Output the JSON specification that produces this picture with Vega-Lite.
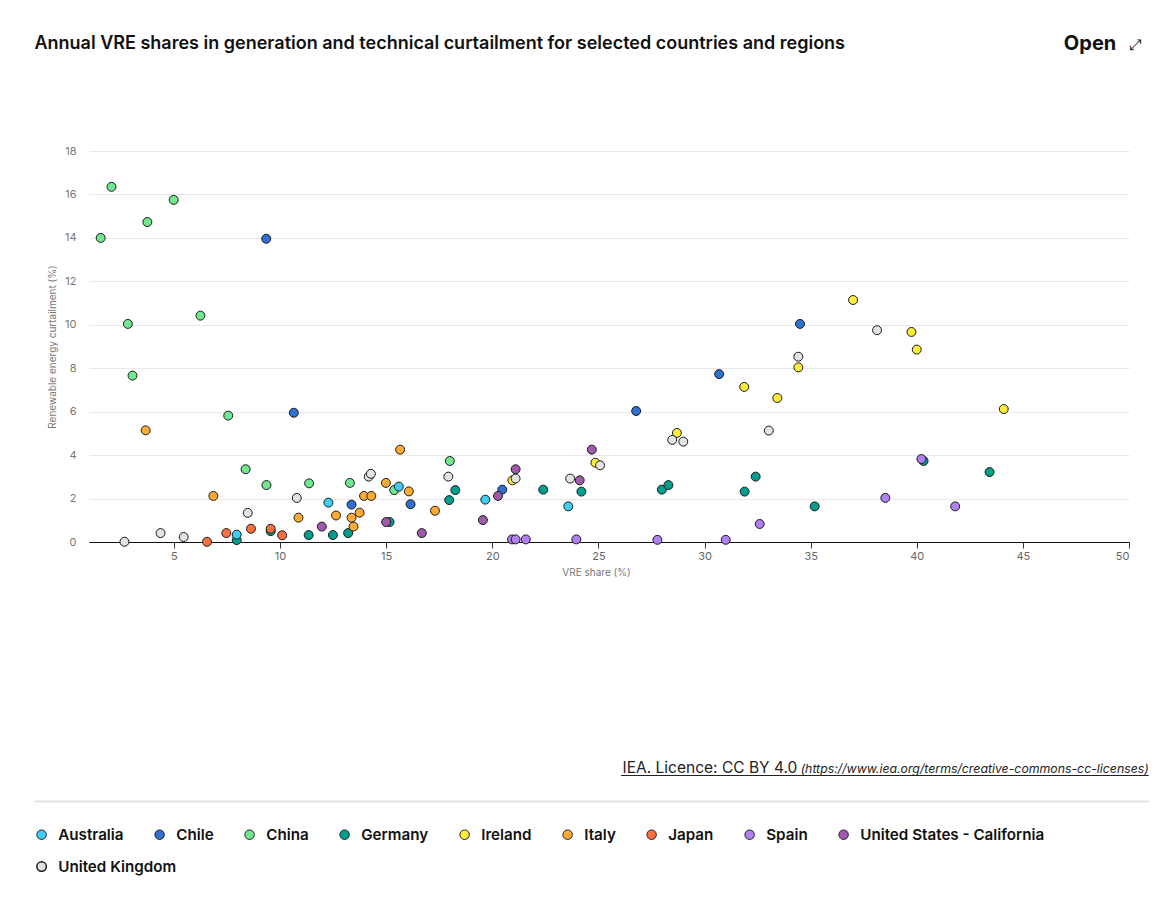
{
  "$schema": "https://vega.github.io/schema/vega-lite/v6.json",
  "autosize": {"type": "none"},
  "padding": {"left": 89, "top": 151, "right": 33, "bottom": 377},
  "width": 1040,
  "height": 391,
  "background": "white",
  "config": {
    "font": "Inter",
    "view": {"stroke": null}
  },
  "datasets": {
    "pts": [
      {"country": "China", "vre": 1.55, "curt": 14.0},
      {"country": "China", "vre": 2.06, "curt": 16.35},
      {"country": "China", "vre": 3.75, "curt": 14.73},
      {"country": "China", "vre": 4.99, "curt": 15.75},
      {"country": "China", "vre": 2.83, "curt": 10.04},
      {"country": "China", "vre": 6.25, "curt": 10.42},
      {"country": "China", "vre": 3.05, "curt": 7.66},
      {"country": "China", "vre": 7.56, "curt": 5.82},
      {"country": "China", "vre": 8.38, "curt": 3.35},
      {"country": "China", "vre": 9.36, "curt": 2.62},
      {"country": "China", "vre": 11.37, "curt": 2.7},
      {"country": "China", "vre": 13.29, "curt": 2.72},
      {"country": "China", "vre": 15.38, "curt": 2.39},
      {"country": "China", "vre": 18.0, "curt": 3.73},
      {"country": "Chile", "vre": 9.35, "curt": 13.96},
      {"country": "Chile", "vre": 10.65, "curt": 5.95},
      {"country": "Chile", "vre": 13.37, "curt": 1.72},
      {"country": "Chile", "vre": 16.15, "curt": 1.74},
      {"country": "Chile", "vre": 20.47, "curt": 2.41},
      {"country": "Chile", "vre": 26.78, "curt": 6.03},
      {"country": "Chile", "vre": 30.69, "curt": 7.73},
      {"country": "Chile", "vre": 34.5, "curt": 10.04},
      {"country": "Germany", "vre": 7.96, "curt": 0.09},
      {"country": "Germany", "vre": 9.56, "curt": 0.5},
      {"country": "Germany", "vre": 11.35, "curt": 0.32},
      {"country": "Germany", "vre": 12.49, "curt": 0.32},
      {"country": "Germany", "vre": 13.21, "curt": 0.41},
      {"country": "Germany", "vre": 15.16, "curt": 0.92},
      {"country": "Germany", "vre": 17.97, "curt": 1.93},
      {"country": "Germany", "vre": 18.26, "curt": 2.39},
      {"country": "Germany", "vre": 22.4, "curt": 2.41},
      {"country": "Germany", "vre": 24.2, "curt": 2.32},
      {"country": "Germany", "vre": 27.99, "curt": 2.41},
      {"country": "Germany", "vre": 28.3, "curt": 2.62},
      {"country": "Germany", "vre": 31.89, "curt": 2.32},
      {"country": "Germany", "vre": 32.41, "curt": 3.01},
      {"country": "Germany", "vre": 35.19, "curt": 1.64},
      {"country": "Germany", "vre": 40.32, "curt": 3.73},
      {"country": "Germany", "vre": 43.43, "curt": 3.22},
      {"country": "Ireland", "vre": 20.95, "curt": 2.84},
      {"country": "Ireland", "vre": 24.86, "curt": 3.65},
      {"country": "Ireland", "vre": 28.7, "curt": 5.02},
      {"country": "Ireland", "vre": 31.87, "curt": 7.14},
      {"country": "Ireland", "vre": 33.43, "curt": 6.63},
      {"country": "Ireland", "vre": 34.42, "curt": 8.04},
      {"country": "Ireland", "vre": 37.0, "curt": 11.14},
      {"country": "Ireland", "vre": 39.75, "curt": 9.67},
      {"country": "Ireland", "vre": 40.0, "curt": 8.86},
      {"country": "Ireland", "vre": 44.1, "curt": 6.12},
      {"country": "Italy", "vre": 3.67, "curt": 5.14},
      {"country": "Italy", "vre": 6.86, "curt": 2.12},
      {"country": "Italy", "vre": 10.87, "curt": 1.12},
      {"country": "Italy", "vre": 12.64, "curt": 1.22},
      {"country": "Italy", "vre": 13.37, "curt": 1.12},
      {"country": "Italy", "vre": 13.46, "curt": 0.71},
      {"country": "Italy", "vre": 13.75, "curt": 1.35},
      {"country": "Italy", "vre": 13.96, "curt": 2.12},
      {"country": "Italy", "vre": 14.3, "curt": 2.12},
      {"country": "Italy", "vre": 14.99, "curt": 2.72},
      {"country": "Italy", "vre": 15.66, "curt": 4.25},
      {"country": "Italy", "vre": 16.07, "curt": 2.33},
      {"country": "Italy", "vre": 17.3, "curt": 1.44},
      {"country": "Japan", "vre": 6.56, "curt": 0.01},
      {"country": "Japan", "vre": 7.47, "curt": 0.41},
      {"country": "Japan", "vre": 8.63, "curt": 0.61},
      {"country": "Japan", "vre": 9.56, "curt": 0.61},
      {"country": "Japan", "vre": 10.1, "curt": 0.31},
      {"country": "Australia", "vre": 7.96, "curt": 0.34},
      {"country": "Australia", "vre": 12.28, "curt": 1.81},
      {"country": "Australia", "vre": 15.6, "curt": 2.55},
      {"country": "Australia", "vre": 19.67, "curt": 1.95},
      {"country": "Australia", "vre": 23.58, "curt": 1.64},
      {"country": "Spain", "vre": 20.93, "curt": 0.12},
      {"country": "Spain", "vre": 21.1, "curt": 0.12},
      {"country": "Spain", "vre": 21.58, "curt": 0.12},
      {"country": "Spain", "vre": 23.96, "curt": 0.12},
      {"country": "Spain", "vre": 27.78, "curt": 0.1},
      {"country": "Spain", "vre": 31.0, "curt": 0.1},
      {"country": "Spain", "vre": 32.6, "curt": 0.83},
      {"country": "Spain", "vre": 38.52, "curt": 2.03},
      {"country": "Spain", "vre": 40.22, "curt": 3.82},
      {"country": "Spain", "vre": 41.81, "curt": 1.64},
      {"country": "United States - California", "vre": 11.97, "curt": 0.71},
      {"country": "United States - California", "vre": 15.0, "curt": 0.92},
      {"country": "United States - California", "vre": 16.68, "curt": 0.41},
      {"country": "United States - California", "vre": 19.56, "curt": 1.01},
      {"country": "United States - California", "vre": 20.27, "curt": 2.12},
      {"country": "United States - California", "vre": 21.1, "curt": 3.35},
      {"country": "United States - California", "vre": 24.12, "curt": 2.84},
      {"country": "United States - California", "vre": 24.69, "curt": 4.25},
      {"country": "United Kingdom", "vre": 2.67, "curt": 0.01},
      {"country": "United Kingdom", "vre": 4.37, "curt": 0.41},
      {"country": "United Kingdom", "vre": 5.46, "curt": 0.23},
      {"country": "United Kingdom", "vre": 8.48, "curt": 1.34},
      {"country": "United Kingdom", "vre": 10.79, "curt": 2.03},
      {"country": "United Kingdom", "vre": 14.18, "curt": 3.01},
      {"country": "United Kingdom", "vre": 14.28, "curt": 3.14},
      {"country": "United Kingdom", "vre": 17.93, "curt": 3.01},
      {"country": "United Kingdom", "vre": 21.1, "curt": 2.92},
      {"country": "United Kingdom", "vre": 23.67, "curt": 2.92},
      {"country": "United Kingdom", "vre": 25.08, "curt": 3.53},
      {"country": "United Kingdom", "vre": 28.48, "curt": 4.7},
      {"country": "United Kingdom", "vre": 29.0, "curt": 4.62},
      {"country": "United Kingdom", "vre": 33.03, "curt": 5.13},
      {"country": "United Kingdom", "vre": 34.42, "curt": 8.53},
      {"country": "United Kingdom", "vre": 38.13, "curt": 9.75}
    ]
  },
  "layer": [
    {
      "data": {"name": "pts"},
      "transform": [{"filter": "datum.country !== 'United Kingdom'"}],
      "mark": {"type": "point", "filled": true, "shape": "circle", "size": 80, "stroke": "#1a1a1a", "strokeWidth": 1, "opacity": 1},
      "encoding": {
        "x": {
          "field": "vre", "type": "quantitative",
          "scale": {"domain": [1, 50], "nice": false, "zero": false},
          "axis": {
            "title": "VRE share (%)",
            "values": [5, 10, 15, 20, 25, 30, 35, 40, 45, 50],
            "grid": false,
            "domainColor": "#111111",
            "domainWidth": 1.2,
            "tickColor": "#333333",
            "tickSize": 6,
            "labelColor": "#666666",
            "labelFontSize": 11,
            "labelPadding": 2,
            "titleColor": "#777777",
            "titleFontSize": 10,
            "titleFontWeight": "normal",
            "titlePadding": 6,
            "titleX": 507
          }
        },
        "y": {
          "field": "curt", "type": "quantitative",
          "scale": {"domain": [0, 18], "nice": false},
          "axis": {
            "title": "Renewable energy curtailment (%)",
            "values": [0, 2, 4, 6, 8, 10, 12, 14, 16, 18],
            "domain": false,
            "ticks": false,
            "grid": true,
            "gridColor": "#e8e8e8",
            "labelColor": "#777777",
            "labelFontSize": 11,
            "labelPadding": 13,
            "titleColor": "#777777",
            "titleFontSize": 10,
            "titleFontWeight": "normal",
            "titlePadding": 7
          }
        },
        "color": {
          "field": "country", "type": "nominal",
          "scale": {
            "domain": ["Australia", "Chile", "China", "Germany", "Ireland", "Italy", "Japan", "Spain", "United States - California"],
            "range": ["#3fcdf5", "#3070d0", "#6fe88f", "#009e8c", "#fdec3b", "#ffab33", "#ff6e40", "#b07ff0", "#a05aad"]
          },
          "legend": {
            "title": null,
            "orient": "none",
            "legendX": -55,
            "legendY": 676,
            "direction": "horizontal",
            "symbolType": "circle",
            "symbolSize": 90,
            "symbolStrokeColor": "#222222",
            "symbolStrokeWidth": 1,
            "symbolOpacity": 1,
            "labelFontSize": 15.2,
            "labelFontWeight": 600,
            "labelColor": "#111111",
            "labelOffset": 9,
            "labelLimit": 400,
            "columnPadding": 28
          }
        }
      }
    },
    {
      "data": {"name": "pts"},
      "transform": [{"filter": "datum.country === 'United Kingdom'"}],
      "mark": {"type": "point", "filled": true, "size": 80, "stroke": "#1a1a1a", "strokeWidth": 1, "opacity": 1, "color": "#e3e3e3"},
      "encoding": {
        "x": {"field": "vre", "type": "quantitative"},
        "y": {"field": "curt", "type": "quantitative"},
        "shape": {
          "field": "country", "type": "nominal",
          "scale": {"domain": ["United Kingdom"], "range": ["circle"]},
          "legend": {
            "title": null,
            "orient": "none",
            "legendX": -55,
            "legendY": 708,
            "direction": "horizontal",
            "symbolSize": 90,
            "labelFontSize": 15.2,
            "labelFontWeight": 600,
            "labelColor": "#111111",
            "labelOffset": 9,
            "labelLimit": 400,
            "encode": {
              "symbols": {
                "update": {
                  "fill": {"value": "#e3e3e3"},
                  "stroke": {"value": "#222222"},
                  "strokeWidth": {"value": 1},
                  "opacity": {"value": 1}
                }
              }
            }
          }
        }
      }
    },
    {
      "data": {"values": [{}]},
      "mark": {"type": "text", "text": "Annual VRE shares in generation and technical curtailment for selected countries and regions", "fontSize": 18, "fontWeight": 600, "align": "left", "baseline": "middle", "color": "#111111"},
      "encoding": {"x": {"datum": -1.57, "type": "quantitative"}, "y": {"datum": 22.93, "type": "quantitative"}}
    },
    {
      "data": {"values": [{}]},
      "mark": {"type": "text", "text": "Open", "fontSize": 20, "fontWeight": 700, "align": "right", "baseline": "middle", "color": "#111111"},
      "encoding": {"x": {"datum": 49.4, "type": "quantitative"}, "y": {"datum": 22.93, "type": "quantitative"}}
    },
    {
      "data": {"values": [{}]},
      "mark": {"type": "text", "text": "⤢", "font": "DejaVu Sans", "fontSize": 15, "align": "center", "baseline": "middle", "color": "#222222"},
      "encoding": {"x": {"datum": 50.3, "type": "quantitative"}, "y": {"datum": 22.9, "type": "quantitative"}}
    },
    {
      "data": {"values": [{}]},
      "mark": {"type": "text", "text": "IEA. Licence: CC BY 4.0", "fontSize": 15.5, "align": "right", "baseline": "middle", "color": "#222222"},
      "encoding": {"x": {"datum": 34.37, "type": "quantitative"}, "y": {"datum": -10.4, "type": "quantitative"}}
    },
    {
      "data": {"values": [{}]},
      "mark": {"type": "text", "text": "(https://www.iea.org/terms/creative-commons-cc-licenses)", "fontSize": 12.3, "fontStyle": "italic", "align": "right", "baseline": "middle", "color": "#222222"},
      "encoding": {"x": {"datum": 50.93, "type": "quantitative"}, "y": {"datum": -10.45, "type": "quantitative"}}
    },
    {
      "data": {"values": [{}]},
      "mark": {"type": "rule", "color": "#222222", "strokeWidth": 1},
      "encoding": {"x": {"datum": 26.07, "type": "quantitative"}, "x2": {"datum": 50.93}, "y": {"datum": -10.75, "type": "quantitative"}}
    },
    {
      "data": {"values": [{}]},
      "mark": {"type": "rule", "color": "#e3e3e3", "strokeWidth": 2},
      "encoding": {"x": {"datum": -1.57, "type": "quantitative"}, "x2": {"datum": 50.93}, "y": {"datum": -11.95, "type": "quantitative"}}
    }
  ]
}
